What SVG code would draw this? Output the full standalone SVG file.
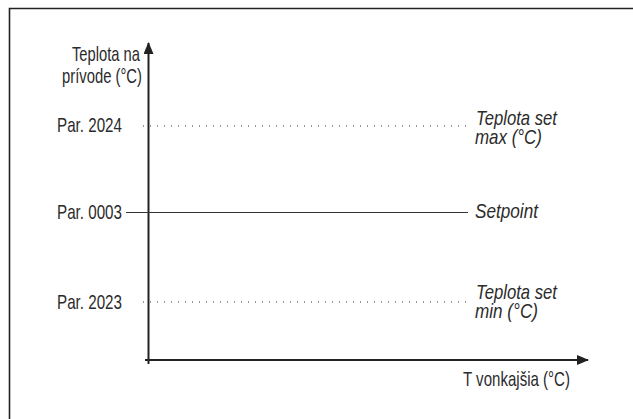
<svg xmlns="http://www.w3.org/2000/svg" width="633" height="419" viewBox="0 0 633 419">
<style>
.t{font-family:"Liberation Sans",Arial,sans-serif;font-size:21px;fill:#2b2b2b}
.i{font-style:italic}
.ax{stroke:#222;stroke-width:2;fill:none}
.dot{stroke:#333;stroke-width:1.2;stroke-dasharray:1 6;fill:none}
.sol{stroke:#333;stroke-width:1.2;fill:none}
</style>
<defs>
<marker id="ah" viewBox="0 0 12 10" refX="11" refY="5" markerWidth="12" markerHeight="10" markerUnits="userSpaceOnUse" orient="auto">
<path d="M0,0 L12,5 L0,10 Z" fill="#222"/>
</marker>
</defs>
<rect width="633" height="419" fill="#fff"/>
<path d="M9.5,420 V8.5 H634" stroke="#222" stroke-width="1.6" fill="none"/>
<g id="connectors">
<line class="ax" x1="148.5" y1="364" x2="148.5" y2="43" marker-end="url(#ah)"/>
<line class="ax" x1="145" y1="360" x2="588" y2="360" marker-end="url(#ah)"/>
<line class="dot" x1="143" y1="126" x2="471" y2="126"/>
<line class="sol" x1="126" y1="212.5" x2="468" y2="212.5"/>
<line class="dot" x1="143" y1="302" x2="471" y2="302"/>
</g>
<g id="y-label">
<text class="t" x="72" y="61" textLength="68" lengthAdjust="spacingAndGlyphs">Teplota na</text>
<text class="t" x="62" y="83" textLength="80" lengthAdjust="spacingAndGlyphs">prívode (°C)</text>
</g>
<g id="par2024"><text class="t" x="57" y="132" textLength="65" lengthAdjust="spacingAndGlyphs">Par. 2024</text></g>
<g id="par0003"><text class="t" x="57" y="219" textLength="65" lengthAdjust="spacingAndGlyphs">Par. 0003</text></g>
<g id="par2023"><text class="t" x="57" y="309" textLength="65" lengthAdjust="spacingAndGlyphs">Par. 2023</text></g>
<g id="max">
<text class="t i" x="476" y="125" textLength="81" lengthAdjust="spacingAndGlyphs">Teplota set</text>
<text class="t i" x="475" y="144" textLength="67" lengthAdjust="spacingAndGlyphs">max (°C)</text>
</g>
<g id="setpoint"><text class="t i" x="475" y="218" textLength="63" lengthAdjust="spacingAndGlyphs">Setpoint</text></g>
<g id="min">
<text class="t i" x="476" y="299" textLength="81" lengthAdjust="spacingAndGlyphs">Teplota set</text>
<text class="t i" x="475" y="318" textLength="63" lengthAdjust="spacingAndGlyphs">min (°C)</text>
</g>
<g id="x-label"><text class="t" x="463" y="386" textLength="107" lengthAdjust="spacingAndGlyphs">T vonkajšia (°C)</text></g>
</svg>
